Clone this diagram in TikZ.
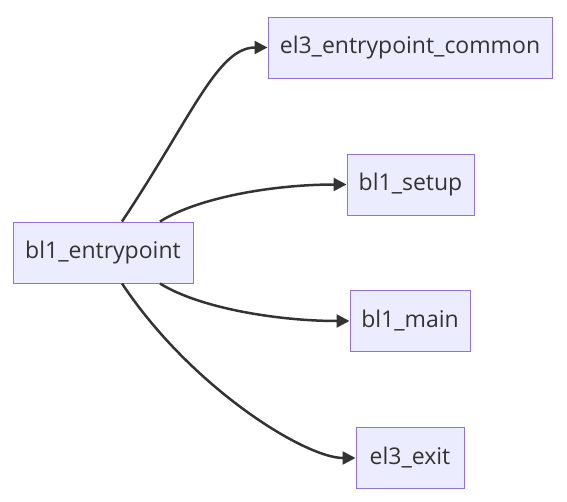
\documentclass[tikz,border=0pt]{standalone}
\usepackage{fontspec}
\setmainfont{Open Sans}
\usetikzlibrary{arrows.meta}
\definecolor{boxfill}{HTML}{ECECFF}
\definecolor{boxline}{HTML}{9370DB}
\definecolor{edgeline}{HTML}{333333}
\begin{document}
\begin{tikzpicture}[x=1pt, y=-1pt,
        fn/.style = {draw=boxline, fill=boxfill, line width=1pt, minimum height=61pt, inner xsep=6pt, font=\fontsize{23}{28}\selectfont, text=edgeline},
        call/.style = {draw=edgeline, line width=2.5pt, -{Triangle[length=13pt,width=13pt]}}]
        \useasboundingbox (0,0) rectangle (567,501);
        \node[fn, minimum width=180pt] (entry) at (103,252.5) {bl1\_entrypoint};
        \node[fn, minimum width=284pt] (common) at (410,47.5) {el3\_entrypoint\_common};
        \node[fn, minimum width=127pt] (setup) at (410.5,184.5) {bl1\_setup};
        \node[fn, minimum width=120pt] (main) at (410,321) {bl1\_main};
        \node[fn, minimum width=108pt] (exit) at (410,458) {el3\_exit};
        \draw[call] ([xshift=19pt]entry.north) .. controls +(70,-105) and +(-50,0) .. (common.west);
        \draw[call] ([xshift=57pt]entry.north) .. controls +(40,-25) and +(-70,0) .. (setup.west);
        \draw[call] ([xshift=57pt]entry.south) .. controls +(40,25) and +(-70,0) .. (main.west);
        \draw[call] ([xshift=19pt]entry.south) .. controls +(70,105) and +(-50,0) .. (exit.west);
      \end{tikzpicture}
\end{document}
